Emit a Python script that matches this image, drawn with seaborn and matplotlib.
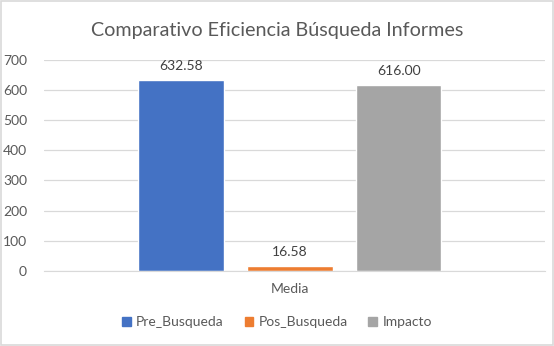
import pandas as pd
import matplotlib
matplotlib.use("Agg")
import matplotlib.pyplot as plt
import seaborn as sns
from matplotlib.patches import Rectangle

# Chart data
categoria = ["Media"]
series = ["Pre_Busqueda", "Pos_Busqueda", "Impacto"]
valores = [632.58, 16.58, 616.00]
colores = ["#4472C4", "#ED7D31", "#A5A5A5"]

df = pd.DataFrame({
    "categoria": categoria * len(series),
    "serie": series,
    "valor": valores,
})

sns.set_style("white")
plt.rcParams["font.family"] = ["Lato", "DejaVu Sans"]
text_color = "#595959"

fig = plt.figure(figsize=(5.54, 3.46), dpi=100)
ax = fig.add_axes([0.079, 0.217, 0.905, 0.61])

sns.barplot(data=df, x="categoria", y="valor", hue="serie",
            palette=colores, saturation=1, width=0.65, gap=0.21,
            ax=ax, legend=False)

ax.set_ylim(0, 700)
ax.set_xlim(-0.491, 0.509)
ax.set_yticks(range(0, 701, 100))
ax.yaxis.grid(True, color="#D9D9D9", linewidth=0.9)
ax.set_axisbelow(True)
for s in ["top", "right", "left"]:
    ax.spines[s].set_visible(False)
ax.spines["bottom"].set_color("#D9D9D9")
ax.tick_params(axis="y", length=0, colors=text_color, labelsize=10, pad=12)
ax.tick_params(axis="x", length=0, colors=text_color, labelsize=10, pad=9)
ax.set_xlabel("")
ax.set_ylabel("")

for cont in ax.containers:
    ax.bar_label(cont, fmt="%.2f", padding=6, color="#404040", fontsize=10)

fig.suptitle("Comparativo Eficiencia Búsqueda Informes", y=0.935,
             fontsize=14.2, color=text_color)

handles = [Rectangle((0, 0), 1, 1, color=c) for c in colores]
fig.legend(handles, series, loc="center", bbox_to_anchor=(0.5, 0.069),
           ncol=3, frameon=False, handlelength=0.6, handleheight=0.6,
           handletextpad=0.4, columnspacing=1.5,
           labelcolor=text_color, prop={"size": 10})

fig.add_artist(Rectangle((0.002, 0.003), 0.996, 0.994, transform=fig.transFigure,
                         fill=False, edgecolor="#D9D9D9", linewidth=1.2))

fig.savefig("out.png", dpi=100)
